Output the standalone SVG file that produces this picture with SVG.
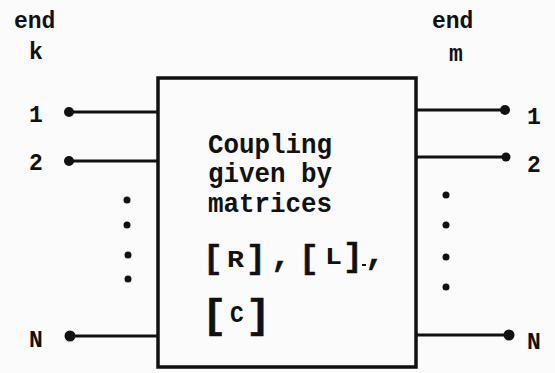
<svg xmlns="http://www.w3.org/2000/svg" width="555" height="373" viewBox="0 0 555 373">
<style>
.t{font-family:"Liberation Mono","DejaVu Sans Mono",monospace;font-weight:bold;fill:#111}
.lbl{font-size:23px}
.box{font-size:27px}
.br{font-size:33px;stroke:#111;stroke-width:0.5}
.brc{font-size:41px;stroke:#111;stroke-width:0.6}
.ml{font-size:23px}
.wire{stroke:#111;stroke-width:3;fill:none}
.term{fill:#111}
.dot{fill:#111}
</style>
<rect width="555" height="373" fill="#fbfbfb"/>
<g id="end-k">
<text class="t lbl" x="14" y="28">end</text>
<text class="t lbl" x="29" y="59">k</text>
</g>
<g id="end-m">
<text class="t lbl" x="432" y="28">end</text>
<text class="t lbl" x="449" y="61">m</text>
</g>
<g id="coupling-box">
<rect x="158" y="78" width="258" height="289" fill="#fbfbfb" stroke="#111" stroke-width="3.5"/>
<text class="t box" x="208" y="153" textLength="124" lengthAdjust="spacingAndGlyphs">Coupling</text>
<text class="t box" x="208" y="182" textLength="124" lengthAdjust="spacingAndGlyphs">given by</text>
<text class="t box" x="208" y="212" textLength="124" lengthAdjust="spacingAndGlyphs">matrices</text>
<text class="t br" x="203" y="268">[</text>
<text class="t ml" x="227" y="267" textLength="17" lengthAdjust="spacingAndGlyphs">R</text>
<text class="t br" x="246" y="268">]</text>
<text class="t br" x="271" y="266">,</text>
<text class="t br" x="299" y="268">[</text>
<text class="t ml" x="325" y="264" textLength="17" lengthAdjust="spacingAndGlyphs">L</text>
<text class="t br" x="343" y="266">]</text>
<rect class="dot" x="362" y="264" width="4" height="2"/>
<text class="t br" x="365" y="264">,</text>
<text class="t brc" x="202" y="328">[</text>
<text class="t ml" x="230" y="322">C</text>
<text class="t brc" x="246" y="328">]</text>
</g>
<g id="connectors">
<line class="wire" x1="69" y1="112" x2="158" y2="112"/>
<line class="wire" x1="69" y1="161" x2="158" y2="161"/>
<line class="wire" x1="70" y1="336" x2="158" y2="336"/>
<line class="wire" x1="416" y1="110" x2="505" y2="110"/>
<line class="wire" x1="416" y1="157" x2="506" y2="157"/>
<line class="wire" x1="416" y1="335" x2="509" y2="335"/>
</g>
<g id="port-k1"><circle class="term" cx="69" cy="112" r="5"/><text class="t lbl" x="29" y="122">1</text></g>
<g id="port-k2"><circle class="term" cx="69" cy="161" r="5"/><text class="t lbl" x="29" y="170">2</text></g>
<g id="port-kN"><circle class="term" cx="70" cy="336" r="5.5"/><text class="t lbl" x="29" y="347">N</text></g>
<g id="port-m1"><circle class="term" cx="505" cy="110" r="5"/><text class="t lbl" x="527" y="124">1</text></g>
<g id="port-m2"><circle class="term" cx="506" cy="157" r="4.5"/><text class="t lbl" x="527" y="172">2</text></g>
<g id="port-mN"><circle class="term" cx="509" cy="335" r="5.5"/><text class="t lbl" x="527" y="349">N</text></g>
<g id="ellipsis-k">
<circle class="dot" cx="127" cy="200" r="3.5"/>
<circle class="dot" cx="127" cy="225" r="3.5"/>
<circle class="dot" cx="128" cy="255" r="3.5"/>
<circle class="dot" cx="128" cy="279" r="3.5"/>
</g>
<g id="ellipsis-m">
<circle class="dot" cx="446" cy="195" r="3.5"/>
<circle class="dot" cx="446" cy="225" r="3.5"/>
<circle class="dot" cx="446" cy="257" r="3.5"/>
<circle class="dot" cx="446" cy="287" r="3.5"/>
</g>
</svg>
